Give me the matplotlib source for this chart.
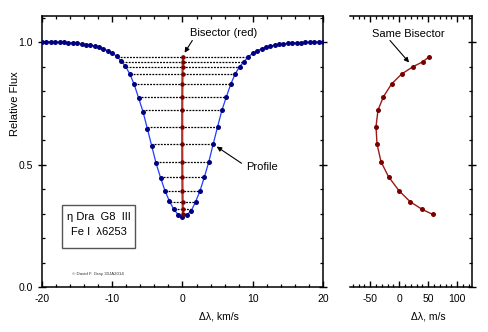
import numpy as np
import matplotlib
matplotlib.use("Agg")
from matplotlib import pyplot as plt
from matplotlib.patches import Rectangle
from matplotlib.ticker import MultipleLocator

plt.rcParams['font.family'] = ['Liberation Sans', 'DejaVu Sans']
plt.rcParams['axes.unicode_minus'] = False

# Line profile: velocity (km/s) and relative flux
velocity = [-20.0, -19.375, -18.75, -18.125, -17.5, -16.875, -16.25, -15.625,
            -15.0, -14.375, -13.75, -13.125, -12.5, -11.875, -11.25, -10.625,
            -10.0, -9.375, -8.75, -8.125, -7.5, -6.875, -6.25, -5.625,
            -5.0, -4.375, -3.75, -3.125, -2.5, -1.875, -1.25, -0.625,
            0.0,
            0.625, 1.25, 1.875, 2.5, 3.125, 3.75, 4.375, 5.0,
            5.625, 6.25, 6.875, 7.5, 8.125, 8.75, 9.375, 10.0,
            10.625, 11.25, 11.875, 12.5, 13.125, 13.75, 14.375, 15.0,
            15.625, 16.25, 16.875, 17.5, 18.125, 18.75, 19.375, 20.0]
flux = [1.003, 1.003, 1.003, 1.002, 1.001, 1.000, 0.999, 0.998,
        0.996, 0.994, 0.991, 0.988, 0.985, 0.980, 0.974, 0.966,
        0.956, 0.944, 0.924, 0.903, 0.871, 0.828, 0.773, 0.717,
        0.647, 0.576, 0.505, 0.447, 0.394, 0.352, 0.318, 0.296,
        0.288,
        0.295, 0.312, 0.349, 0.394, 0.451, 0.512, 0.585, 0.656,
        0.724, 0.778, 0.830, 0.871, 0.901, 0.921, 0.942, 0.955,
        0.966, 0.974, 0.981, 0.985, 0.989, 0.992, 0.994, 0.996,
        0.997, 0.998, 0.999, 1.000, 1.001, 1.001, 1.002, 1.002]

# Bisector: flux level and velocity shift (m/s)
bis_flux = [0.942, 0.921, 0.901, 0.871, 0.830, 0.778, 0.724, 0.656,
            0.585, 0.512, 0.451, 0.394, 0.349, 0.318, 0.297]
bis_shift = [51.8, 40.8, 23.9, 4.2, -13.3, -27.2, -36.6, -40.1,
             -38.4, -31.4, -18.5, -0.5, 18.7, 39.1, 57.6]

velocity = np.asarray(velocity)
flux = np.asarray(flux)
bis_flux = np.asarray(bis_flux)
bis_shift = np.asarray(bis_shift)

fig = plt.figure(figsize=(4.89, 3.32), dpi=100)
ax = fig.add_axes([0.0859, 0.1355, 0.5746, 0.8163])
ax2 = fig.add_axes([0.7157, 0.1355, 0.2489, 0.8163])

# Dotted level lines between the two wings
right = velocity >= 0
left = velocity <= 0
v_r = np.interp(bis_flux, flux[right], velocity[right])
v_l = np.interp(bis_flux, flux[left][::-1], velocity[left][::-1])
for f, a, b in zip(bis_flux, v_l, v_r):
    ax.plot([a, b], [f, f], color='k', lw=0.9, linestyle=(0, (1.5, 1.0)), zorder=2)

# Profile
ax.plot(velocity, flux, color='#1f3cff', lw=0.9, zorder=3)
ax.plot(velocity, flux, 'o', color='#000080', ms=3.6, mec='none', zorder=4)

# Bisector on the km/s scale
ax.plot(bis_shift / 1000.0, bis_flux, color='#b0342c', lw=1.6, zorder=5)
ax.plot(bis_shift / 1000.0, bis_flux, 'o', color='#7a0000', ms=3.2, mec='none', zorder=6)

ax.set_xlim(-20, 20)
ax.set_ylim(0, 1.108)
ax.xaxis.set_major_locator(MultipleLocator(10))
ax.xaxis.set_minor_locator(MultipleLocator(2))
ax.yaxis.set_major_locator(MultipleLocator(0.5))
ax.yaxis.set_minor_locator(MultipleLocator(0.1))
ax.tick_params(axis='x', which='both', direction='in', top=True, labelsize=7.5, pad=5)
ax.tick_params(axis='x', which='major', length=4.5, width=1)
ax.tick_params(axis='x', which='minor', length=2.5, width=0.9)
ax.tick_params(axis='y', which='both', right=True, labelsize=7.5)
ax.tick_params(axis='y', which='major', direction='inout', length=6, width=1)
ax.tick_params(axis='y', which='minor', direction='in', length=2.5, width=0.9)
ax.yaxis.set_major_formatter(plt.FuncFormatter(lambda v, p: f"{v:.1f}"))
for s in ax.spines.values():
    s.set_linewidth(1.1)

ax.set_ylabel('Relative Flux', fontsize=8)
ax.yaxis.set_label_coords(-0.078, 0.676)
ax.set_xlabel('Δλ, km/s', fontsize=7.5)
ax.xaxis.set_label_coords(0.628, -0.089)

# Annotations
arrow = dict(arrowstyle='-|>', color='k', lw=0.8, mutation_scale=7, shrinkA=0, shrinkB=0)
ax.text(5.8, 1.038, 'Bisector (red)', fontsize=8, ha='center', va='center')
ax.annotate('', xy=(0.3, 0.958), xytext=(1.4, 1.008), arrowprops=arrow)
ax.annotate('', xy=(4.86, 0.574), xytext=(8.4, 0.506), arrowprops=arrow)
ax.text(9.1, 0.49, 'Profile', fontsize=8, ha='left', va='center')

ax.add_patch(Rectangle((-17.1, 0.161), 10.3, 0.174, fill=False,
                       edgecolor='#555555', lw=1.0, zorder=7))
ax.text(-11.95, 0.288, 'η Dra  G8  III', fontsize=8, ha='center', va='center')
ax.text(-11.95, 0.226, 'Fe I  λ6253', fontsize=8, ha='center', va='center')
ax.text(-12.0, 0.053, '© David F. Gray 30JA2014', fontsize=3.2, ha='center', va='center',
        color='#333333')

# Right panel: bisector on the m/s scale
ax2.plot(bis_shift, bis_flux, color='#9a1a14', lw=1.0, zorder=3)
ax2.plot(bis_shift, bis_flux, 'o', color='#7a0000', ms=3.6, mec='none', zorder=4)
ax2.set_xlim(-85, 125)
ax2.set_ylim(0, 1.108)
ax2.xaxis.set_major_locator(MultipleLocator(50))
ax2.xaxis.set_minor_locator(MultipleLocator(10))
ax2.yaxis.set_major_locator(MultipleLocator(0.5))
ax2.yaxis.set_minor_locator(MultipleLocator(0.1))
ax2.spines['left'].set_visible(False)
for s in ['top', 'right', 'bottom']:
    ax2.spines[s].set_linewidth(1.1)
ax2.tick_params(axis='x', which='both', direction='in', top=True, labelsize=7.5, pad=5)
ax2.tick_params(axis='x', which='major', length=4.5, width=1)
ax2.tick_params(axis='x', which='minor', length=2.5, width=0.9)
ax2.tick_params(axis='y', which='both', left=False, right=True, labelleft=False)
ax2.tick_params(axis='y', which='major', direction='inout', length=6, width=1)
ax2.tick_params(axis='y', which='minor', direction='in', length=2.5, width=0.9)
ax2.set_xlabel('Δλ, m/s', fontsize=7.5)
ax2.xaxis.set_label_coords(0.64, -0.089)
ax2.text(15.7, 1.034, 'Same Bisector', fontsize=8, ha='center', va='center')
ax2.annotate('', xy=(17.0, 0.918), xytext=(-16.0, 1.008), arrowprops=arrow)

fig.savefig('out.png', dpi=100)
